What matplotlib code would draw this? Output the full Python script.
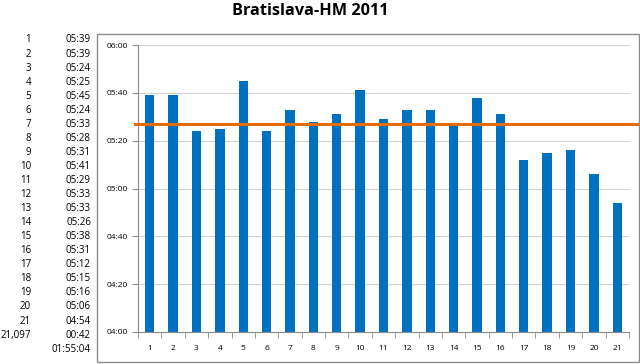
import matplotlib
matplotlib.use("Agg")
import matplotlib.pyplot as plt
from matplotlib.patches import Rectangle
from matplotlib.ticker import FixedLocator, FuncFormatter

plt.rcParams['font.family'] = ['Open Sans', 'DejaVu Sans']

km = list(range(1, 22))
split_times = ["05:39", "05:39", "05:24", "05:25", "05:45", "05:24", "05:33",
               "05:28", "05:31", "05:41", "05:29", "05:33", "05:33", "05:26",
               "05:38", "05:31", "05:12", "05:15", "05:16", "05:06", "04:54"]
last_distance = "21,097"
last_time = "00:42"
total_time = "01:55:04"


def to_seconds(s):
    secs = 0
    for part in s.split(":"):
        secs = secs * 60 + int(part)
    return secs


def mmss(v, pos=None):
    v = int(round(v))
    return f"{v // 60:02d}:{v % 60:02d}"


split_seconds = [to_seconds(t) for t in split_times]
# orange line: mean of the full-km splits
avg_pace = sum(split_seconds) / len(split_seconds)

fig = plt.figure(figsize=(6.4, 3.64), dpi=100)
W, H = 640, 364

# frame around the chart
fig.patches.append(Rectangle((97 / W, 1 - 362 / H), 542 / W, 328 / H,
                             transform=fig.transFigure, fill=False,
                             edgecolor="#8c8c8c", linewidth=1))

fig.text(310 / W, 1 - 11 / H, "Bratislava-HM 2011", ha="center", va="center",
         fontsize=11.7, fontweight="bold")

# the table of splits on the left
rows = [(str(k), t) for k, t in zip(km, split_times)]
rows.append((last_distance, last_time))
rows.append(("", total_time))
for i, (label, t) in enumerate(rows):
    y = 1 - (40 + 14.05 * i) / H
    fig.text(31 / W, y, label, ha="right", va="center", fontsize=7)
    fig.text(91 / W, y, t, ha="right", va="center", fontsize=7)

ax = fig.add_axes([138 / W, 1 - 332 / H, 491 / W, 287 / H])
ax.bar(km, split_seconds, width=0.4, color="#0070C0", zorder=2)
ax.axhline(avg_pace, xmin=-0.006, xmax=1.016, color="#E46C0A", linewidth=2.2,
           zorder=3, clip_on=False)

ax.set_xlim(0.5, 21.5)
ax.set_ylim(240, 360)
ax.yaxis.set_major_locator(FixedLocator(range(240, 361, 20)))
ax.yaxis.set_major_formatter(FuncFormatter(mmss))
ax.set_xticks(km)
ax.xaxis.set_minor_locator(FixedLocator([k + 0.5 for k in range(0, 22)]))
ax.tick_params(axis="x", which="major", length=0, pad=9, labelsize=6)
ax.tick_params(axis="x", which="minor", length=4, color="#8c8c8c")
ax.tick_params(axis="y", length=4, color="#8c8c8c", labelsize=6, pad=3)
ax.grid(axis="y", color="#d0d0d0", linewidth=0.8, zorder=0)
for side in ("top", "right"):
    ax.spines[side].set_visible(False)
for side in ("left", "bottom"):
    ax.spines[side].set_color("#8c8c8c")

fig.savefig("out.png", dpi=100)
